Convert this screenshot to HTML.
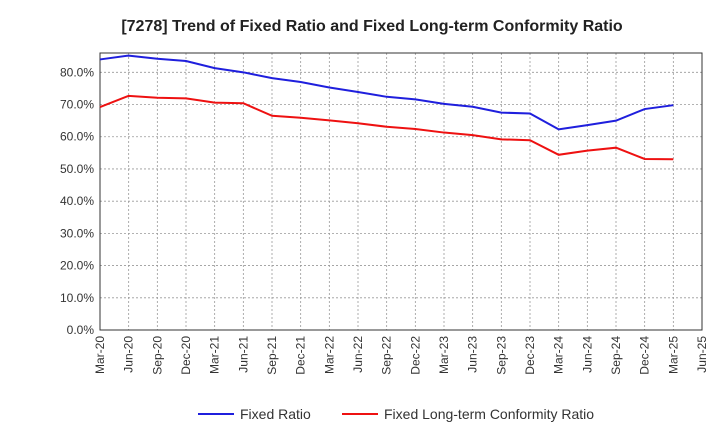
<!DOCTYPE html>
<html><head><meta charset="utf-8"><style>
body{margin:0;background:#fff;font-family:"Liberation Sans",sans-serif}
</style></head><body>
<svg id="c" width="720" height="440" xmlns="http://www.w3.org/2000/svg" font-family="Liberation Sans, sans-serif"></svg>
<script>
const categories=["Mar-20","Jun-20","Sep-20","Dec-20","Mar-21","Jun-21","Sep-21","Dec-21","Mar-22","Jun-22","Sep-22","Dec-22","Mar-23","Jun-23","Sep-23","Dec-23","Mar-24","Jun-24","Sep-24","Dec-24","Mar-25","Jun-25"];
const fixedRatio=[84,85.2,84.2,83.5,81.3,80,78.2,77,75.3,73.9,72.4,71.6,70.2,69.3,67.5,67.2,62.3,63.6,65,68.6,69.8];
const conformityRatio=[69.2,72.7,72.1,71.9,70.6,70.4,66.5,65.9,65.1,64.2,63.1,62.4,61.3,60.5,59.2,58.9,54.4,55.7,56.6,53.1,53.0];
const yTicks=[0,10,20,30,40,50,60,70,80];
const svg=document.getElementById('c');
const NS="http://www.w3.org/2000/svg";
const L=100,R=702,T=53,B=330,yMax=86;
const x=i=>L+i*(R-L)/(categories.length-1);
const y=v=>B-v/yMax*(B-T);
function mk(t,a,p){const e=document.createElementNS(NS,t);for(const k in a)e.setAttribute(k,a[k]);(p||svg).appendChild(e);return e;}
let t=mk('text',{x:372,y:31,'text-anchor':'middle','font-size':16,'font-weight':'bold',fill:'#222'});


t.textContent='[7278]  Trend of Fixed Ratio and Fixed Long-term Conformity Ratio';
const grid=mk('g',{});


yTicks.forEach(v=>{
 mk('line',{x1:L,x2:R,y1:y(v),y2:y(v),stroke:'#999','stroke-dasharray':'2,2','stroke-width':0.8},grid);
 const lb=mk('text',{x:L-6,y:y(v)+4,'text-anchor':'end','font-size':12,fill:'#333'});
 
 
 lb.textContent=v.toFixed(1)+'%';
});
categories.forEach((c,i)=>{
 mk('line',{x1:x(i),x2:x(i),y1:T,y2:B,stroke:'#999','stroke-dasharray':'2,2','stroke-width':0.8},grid);
 const lb=mk('text',{transform:`translate(${x(i)+4},${B+6}) rotate(-90)`,'text-anchor':'end','font-size':12,fill:'#333'});
 
 
 lb.textContent=c;
});
const fr=mk('rect',{x:L,y:T,width:R-L,height:B-T,fill:'none',stroke:'#333','stroke-width':1});


function line(vals,col,name){
 const p=mk('polyline',{points:vals.map((v,i)=>x(i)+','+y(v)).join(' '),fill:'none',stroke:col,'stroke-width':2});
 
 
}
line(fixedRatio,'#1f1fdd','fixed-ratio-line');
line(conformityRatio,'#ee1111','conformity-ratio-line');
function leg(x0,col,txt,name){
 const g=mk('g',{});
 
 
 mk('line',{x1:x0,x2:x0+36,y1:414,y2:414,stroke:col,'stroke-width':2},g);
 const tt=mk('text',{x:x0+42,y:419,'font-size':14,fill:'#333'},g);tt.textContent=txt;
}
leg(198,'#1f1fdd','Fixed Ratio','legend-fixed-ratio');
leg(342,'#ee1111','Fixed Long-term Conformity Ratio','legend-conformity-ratio');
</script>
</body></html>
